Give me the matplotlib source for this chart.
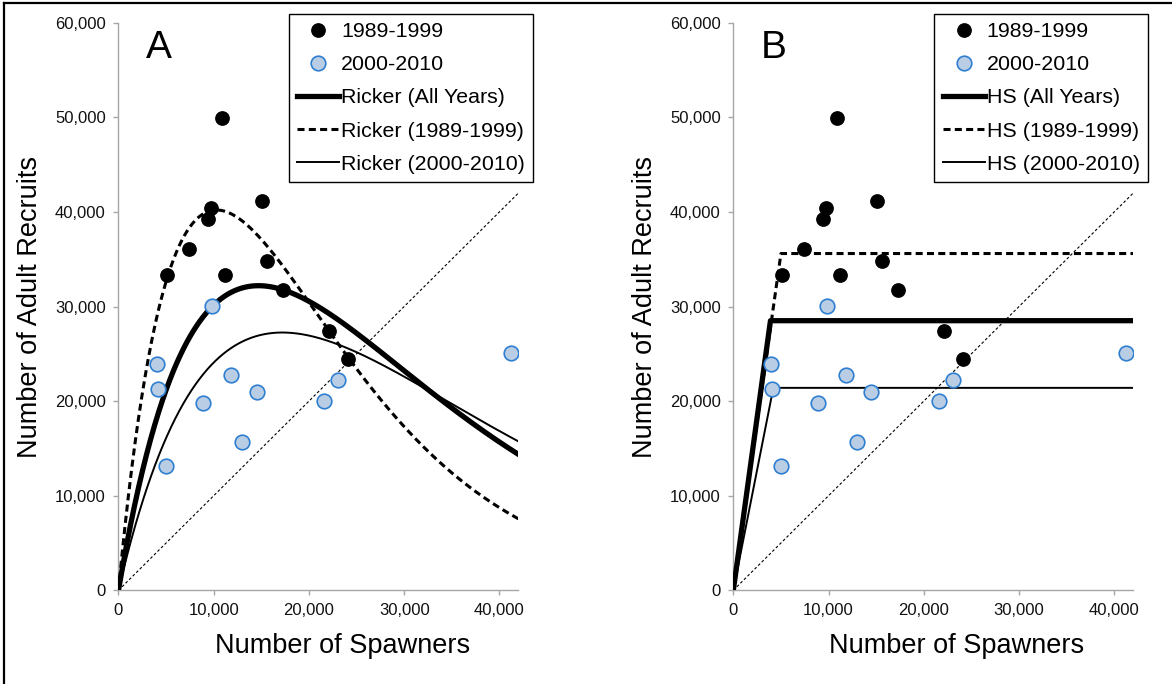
import numpy as np
import matplotlib
matplotlib.use('Agg')
import matplotlib.pyplot as plt
from matplotlib.lines import Line2D
from matplotlib.ticker import FuncFormatter, MultipleLocator

plt.rcParams['font.family'] = ['Liberation Sans', 'DejaVu Sans']

# spawner / recruit observations by brood-year group
spawners_8999 = [5100, 7400, 9400, 9700, 10900, 11200, 15100, 15600, 17300, 22100, 24100]
recruits_8999 = [33300, 36100, 39200, 40400, 49900, 33300, 41100, 34800, 31700, 27400, 24500]
spawners_0010 = [4000, 4100, 5000, 9800, 8900, 11800, 13000, 14500, 21600, 23100, 41200]
recruits_0010 = [23900, 21300, 13100, 30100, 19800, 22800, 15700, 21000, 20000, 22200, 25100]

# Ricker fits given as (spawners at peak, peak recruits)
ricker_all = (14700, 32200)
ricker_8999 = (10300, 40200)
ricker_0010 = (17200, 27250)

# hockey-stick fits given as (breakpoint spawners, plateau recruits)
hs_all = (3900, 28500)
hs_8999 = (5000, 35600)
hs_0010 = (4200, 21400)

x_max = 42000
y_max = 60000

grey = '#a6a6a6'
blue_face = '#b9cde5'
blue_edge = '#2f7fd0'


def ricker(s, params):
    s_peak, r_peak = params
    return r_peak * (s / s_peak) * np.exp(1 - s / s_peak)


def hockey(params):
    s_b, r_p = params
    return [0, s_b, x_max], [0, r_p, r_p]


def setup(ax, letter):
    ax.set_xlim(0, x_max)
    ax.set_ylim(0, y_max)
    for side in ('top', 'right'):
        ax.spines[side].set_visible(False)
    for side in ('left', 'bottom'):
        ax.spines[side].set_color(grey)
        ax.spines[side].set_linewidth(1.0)
    ax.xaxis.set_major_locator(MultipleLocator(10000))
    ax.yaxis.set_major_locator(MultipleLocator(10000))
    fmt = FuncFormatter(lambda v, p: f'{int(v):,}')
    ax.xaxis.set_major_formatter(fmt)
    ax.yaxis.set_major_formatter(fmt)
    ax.tick_params(direction='out', length=3.6, width=1.0, color=grey,
                   labelsize=12, labelcolor='#111111', pad=5.5)
    ax.set_xlabel('Number of Spawners', fontsize=19.5)
    ax.set_ylabel('Number of Adult Recruits', fontsize=19.5)
    ax.xaxis.set_label_coords(0.559, -0.075)
    ax.yaxis.set_label_coords(-0.189, 0.5)
    ax.text(0.069, 0.938, letter, transform=ax.transAxes, fontsize=28,
            ha='left', va='baseline')
    # one-to-one replacement line
    ax.plot([0, x_max], [0, x_max], color='black', lw=0.8,
            linestyle=(0, (2.5, 2)), zorder=1)


def points(ax):
    ax.plot(spawners_8999, recruits_8999, 'o', color='black', markersize=9.6,
            zorder=5)
    ax.plot(spawners_0010, recruits_0010, 'o', markerfacecolor=blue_face,
            markeredgecolor=blue_edge, markeredgewidth=1.2, markersize=10.5,
            zorder=5)


def legend(ax, name):
    handles = [
        Line2D([], [], marker='o', color='black', linestyle='none', markersize=9.6),
        Line2D([], [], marker='o', linestyle='none', markerfacecolor=blue_face,
               markeredgecolor=blue_edge, markeredgewidth=1.2, markersize=10.5),
        Line2D([], [], color='black', lw=3.8),
        Line2D([], [], color='black', lw=2.2, dashes=(2.3, 1.4)),
        Line2D([], [], color='black', lw=1.4),
    ]
    labels = ['1989-1999', '2000-2010', f'{name} (All Years)',
              f'{name} (1989-1999)', f'{name} (2000-2010)']
    leg = ax.legend(handles, labels, loc='upper right',
                    bbox_to_anchor=(1.0375, 1.016), borderaxespad=0,
                    fontsize=15.4, frameon=True, fancybox=False, framealpha=1,
                    edgecolor='black', handlelength=1.95, handletextpad=0.1,
                    labelspacing=0.66, borderpad=0.4)
    leg.get_frame().set_linewidth(1.0)
    leg.set_zorder(10)


fig = plt.figure(figsize=(11.72, 6.84), dpi=100)
axA = fig.add_axes([0.1011, 0.137, 0.3413, 0.8298])
axB = fig.add_axes([0.6257, 0.137, 0.3413, 0.8298])

s = np.linspace(0, x_max, 600)

# panel A: Ricker curves
setup(axA, 'A')
axA.plot(s, ricker(s, ricker_all), color='black', lw=3.8, zorder=3)
axA.plot(s, ricker(s, ricker_8999), color='black', lw=2.2, dashes=(2.3, 1.4), zorder=3)
axA.plot(s, ricker(s, ricker_0010), color='black', lw=1.4, zorder=3)
points(axA)
legend(axA, 'Ricker')

# panel B: hockey-stick curves
setup(axB, 'B')
axB.plot(*hockey(hs_all), color='black', lw=3.8, zorder=3)
axB.plot(*hockey(hs_8999), color='black', lw=2.2, dashes=(2.3, 1.4), zorder=3)
axB.plot(*hockey(hs_0010), color='black', lw=1.4, zorder=3)
points(axB)
legend(axB, 'HS')

# outer frame (left and top edges)
fig.add_artist(Line2D([4 / 1172, 4 / 1172], [0, 1 - 3 / 684], color='black',
                      lw=1.6, transform=fig.transFigure))
fig.add_artist(Line2D([4 / 1172, 1], [1 - 3 / 684, 1 - 3 / 684], color='black',
                      lw=1.6, transform=fig.transFigure))

fig.savefig('out.png', dpi=100)
